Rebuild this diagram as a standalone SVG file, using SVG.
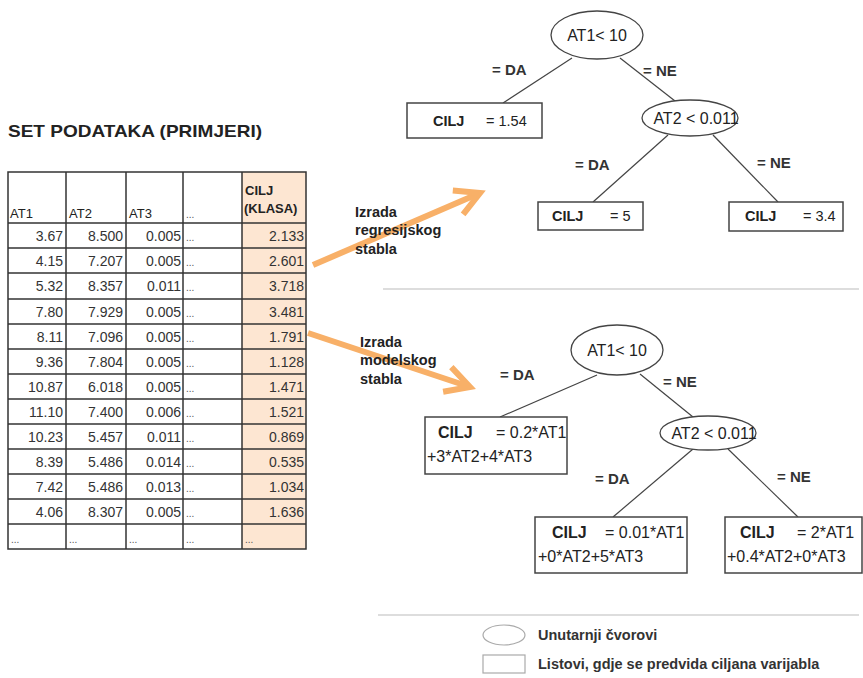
<svg xmlns="http://www.w3.org/2000/svg" width="863" height="678" viewBox="0 0 863 678">
<style>
text{font-family:"Liberation Sans",Arial,sans-serif;fill:#222}
.b{font-weight:bold}
.title{font-size:17px;font-weight:bold}
.hd{font-size:13px}
.hdb{font-size:13px;font-weight:bold}
.td{font-size:14px;text-anchor:end;fill:#333}
.dots{font-size:10px;fill:#555}
.node{fill:#fff;stroke:#444;stroke-width:1.3}
.leaf{fill:#fff;stroke:#444;stroke-width:1.5}
.edge{stroke:#444;stroke-width:1.2;fill:none}
.lbl{font-size:15px;font-weight:bold;fill:#333}
.nt{font-size:16px}
.lt{font-size:14.5px}
.lt2{font-size:16px}
.grid{stroke:#333;stroke-width:1.5;fill:none}
.sep{stroke:#ddd;stroke-width:2}
.arr{stroke:#f8b068;stroke-width:6;fill:none}
.leg{font-size:14.5px;font-weight:bold;fill:#333}
.ann{font-size:14.5px;font-weight:bold;fill:#222}
</style>
<defs>
<marker id="ah" markerUnits="userSpaceOnUse" markerWidth="40" markerHeight="40" refX="0" refY="0" viewBox="-30 -20 36 40" orient="auto" overflow="visible">
<path d="M-24,-13 L0,0 L-24,13" fill="none" stroke="#f8b068" stroke-width="6"/>
</marker>
</defs>
<rect width="863" height="678" fill="#fff"/>

<text class="title" x="8" y="137" textLength="254" lengthAdjust="spacingAndGlyphs">SET PODATAKA (PRIMJERI)</text>

<g id="table">
<rect x="242" y="172" width="64" height="377" fill="#fde6d2"/>
<g class="grid">
<rect x="8" y="172" width="298" height="377"/>
<line x1="66" y1="172" x2="66" y2="549"/>
<line x1="126" y1="172" x2="126" y2="549"/>
<line x1="183" y1="172" x2="183" y2="549"/>
<line x1="242" y1="172" x2="242" y2="549"/>
<line x1="8" y1="223" x2="306" y2="223"/>
<line x1="8" y1="248" x2="306" y2="248"/>
<line x1="8" y1="273" x2="306" y2="273"/>
<line x1="8" y1="299" x2="306" y2="299"/>
<line x1="8" y1="324" x2="306" y2="324"/>
<line x1="8" y1="349" x2="306" y2="349"/>
<line x1="8" y1="374" x2="306" y2="374"/>
<line x1="8" y1="399" x2="306" y2="399"/>
<line x1="8" y1="424" x2="306" y2="424"/>
<line x1="8" y1="449" x2="306" y2="449"/>
<line x1="8" y1="474" x2="306" y2="474"/>
<line x1="8" y1="499" x2="306" y2="499"/>
<line x1="8" y1="524" x2="306" y2="524"/>
</g>
<text class="hd" x="10" y="218">AT1</text>
<text class="hd" x="69" y="218">AT2</text>
<text class="hd" x="129" y="218">AT3</text>
<text class="dots" x="186" y="218">...</text>
<text class="hdb" x="245" y="195">CILJ</text>
<text class="hdb" x="244" y="213">(KLASA)</text>

<g id="col1">
<text class="td" x="63" y="241">3.67</text>
<text class="td" x="63" y="266">4.15</text>
<text class="td" x="63" y="291">5.32</text>
<text class="td" x="63" y="317">7.80</text>
<text class="td" x="63" y="342">8.11</text>
<text class="td" x="63" y="367">9.36</text>
<text class="td" x="63" y="392">10.87</text>
<text class="td" x="63" y="417">11.10</text>
<text class="td" x="63" y="442">10.23</text>
<text class="td" x="63" y="467">8.39</text>
<text class="td" x="63" y="492">7.42</text>
<text class="td" x="63" y="517">4.06</text>
</g>
<g id="col2">
<text class="td" x="123" y="241">8.500</text>
<text class="td" x="123" y="266">7.207</text>
<text class="td" x="123" y="291">8.357</text>
<text class="td" x="123" y="317">7.929</text>
<text class="td" x="123" y="342">7.096</text>
<text class="td" x="123" y="367">7.804</text>
<text class="td" x="123" y="392">6.018</text>
<text class="td" x="123" y="417">7.400</text>
<text class="td" x="123" y="442">5.457</text>
<text class="td" x="123" y="467">5.486</text>
<text class="td" x="123" y="492">5.486</text>
<text class="td" x="123" y="517">8.307</text>
</g>
<g id="col3">
<text class="td" x="181" y="241">0.005</text>
<text class="td" x="181" y="266">0.005</text>
<text class="td" x="181" y="291">0.011</text>
<text class="td" x="181" y="317">0.005</text>
<text class="td" x="181" y="342">0.005</text>
<text class="td" x="181" y="367">0.005</text>
<text class="td" x="181" y="392">0.005</text>
<text class="td" x="181" y="417">0.006</text>
<text class="td" x="181" y="442">0.011</text>
<text class="td" x="181" y="467">0.014</text>
<text class="td" x="181" y="492">0.013</text>
<text class="td" x="181" y="517">0.005</text>
</g>
<g id="col4">
<text class="dots" x="186" y="241">...</text>
<text class="dots" x="186" y="266">...</text>
<text class="dots" x="186" y="291">...</text>
<text class="dots" x="186" y="317">...</text>
<text class="dots" x="186" y="342">...</text>
<text class="dots" x="186" y="367">...</text>
<text class="dots" x="186" y="392">...</text>
<text class="dots" x="186" y="417">...</text>
<text class="dots" x="186" y="442">...</text>
<text class="dots" x="186" y="467">...</text>
<text class="dots" x="186" y="492">...</text>
<text class="dots" x="186" y="517">...</text>
</g>
<g id="col5">
<text class="td" x="304" y="241">2.133</text>
<text class="td" x="304" y="266">2.601</text>
<text class="td" x="304" y="291">3.718</text>
<text class="td" x="304" y="317">3.481</text>
<text class="td" x="304" y="342">1.791</text>
<text class="td" x="304" y="367">1.128</text>
<text class="td" x="304" y="392">1.471</text>
<text class="td" x="304" y="417">1.521</text>
<text class="td" x="304" y="442">0.869</text>
<text class="td" x="304" y="467">0.535</text>
<text class="td" x="304" y="492">1.034</text>
<text class="td" x="304" y="517">1.636</text>
</g>
<text class="dots" x="11" y="543">...</text>
<text class="dots" x="69" y="543">...</text>
<text class="dots" x="129" y="543">...</text>
<text class="dots" x="186" y="543">...</text>
<text class="dots" x="245" y="543">...</text>
</g>

<line class="sep" x1="383" y1="289" x2="859" y2="289"/>
<line class="sep" x1="378" y1="615" x2="859" y2="615"/>

<g id="arrows">
<line class="arr" x1="313" y1="265" x2="480" y2="193" marker-end="url(#ah)"/>
<line class="arr" x1="308" y1="333" x2="470" y2="387" marker-end="url(#ah)"/>
<text class="ann" x="355" y="217">Izrada</text>
<text class="ann" x="355" y="235">regresijskog</text>
<text class="ann" x="355" y="254">stabla</text>
<text class="ann" x="360" y="347">Izrada</text>
<text class="ann" x="360" y="365">modelskog</text>
<text class="ann" x="360" y="384">stabla</text>
</g>

<g id="connectors">
<line class="edge" x1="572" y1="58" x2="503" y2="103"/>
<line class="edge" x1="620" y1="58" x2="675" y2="101"/>
<line class="edge" x1="668" y1="135" x2="593" y2="202"/>
<line class="edge" x1="713" y1="135" x2="778" y2="202"/>
<line class="edge" x1="597" y1="375" x2="500" y2="417"/>
<line class="edge" x1="640" y1="374" x2="693" y2="417"/>
<line class="edge" x1="693" y1="449" x2="613" y2="517"/>
<line class="edge" x1="728" y1="449" x2="798" y2="517"/>
<text class="lbl" x="492" y="75">= DA</text>
<text class="lbl" x="643" y="76">= NE</text>
<text class="lbl" x="575" y="170">= DA</text>
<text class="lbl" x="757" y="168">= NE</text>
<text class="lbl" x="500" y="380">= DA</text>
<text class="lbl" x="663" y="387">= NE</text>
<text class="lbl" x="595" y="484">= DA</text>
<text class="lbl" x="777" y="482">= NE</text>
</g>

<g id="r_root">
<ellipse class="node" cx="597" cy="35" rx="46" ry="24"/>
<text class="nt" x="597" y="41" text-anchor="middle">AT1&lt; 10</text>
</g>
<g id="r_leaf1">
<rect class="leaf" x="407" y="103" width="135" height="35"/>
<text class="lt b" x="433" y="126">CILJ</text>
<text class="lt" x="486" y="126">= 1.54</text>
</g>
<g id="r_at2">
<ellipse class="node" cx="690" cy="118" rx="48" ry="18"/>
<text class="nt" x="696" y="124" text-anchor="middle">AT2 &lt; 0.011</text>
</g>
<g id="r_leaf2">
<rect class="leaf" x="538" y="202" width="105" height="28"/>
<text class="lt b" x="552" y="221">CILJ</text>
<text class="lt" x="610" y="221">= 5</text>
</g>
<g id="r_leaf3">
<rect class="leaf" x="729" y="202" width="114" height="29"/>
<text class="lt b" x="745" y="221">CILJ</text>
<text class="lt" x="803" y="221">= 3.4</text>
</g>

<g id="m_root">
<ellipse class="node" cx="617" cy="350" rx="46" ry="25"/>
<text class="nt" x="617" y="356" text-anchor="middle">AT1&lt; 10</text>
</g>
<g id="m_leaf1">
<rect class="leaf" x="425" y="417" width="142" height="57"/>
<text class="lt2 b" x="438" y="438">CILJ</text>
<text class="lt2" x="496" y="438">= 0.2*AT1</text>
<text class="lt2" x="427" y="462">+3*AT2+4*AT3</text>
</g>
<g id="m_at2">
<ellipse class="node" cx="708" cy="433" rx="48" ry="17"/>
<text class="nt" x="714" y="439" text-anchor="middle">AT2 &lt; 0.011</text>
</g>
<g id="m_leaf2">
<rect class="leaf" x="535" y="517" width="152" height="56"/>
<text class="lt2 b" x="552" y="538">CILJ</text>
<text class="lt2" x="605" y="538">= 0.01*AT1</text>
<text class="lt2" x="538" y="562">+0*AT2+5*AT3</text>
</g>
<g id="m_leaf3">
<rect class="leaf" x="725" y="517" width="137" height="56"/>
<text class="lt2 b" x="740" y="538">CILJ</text>
<text class="lt2" x="797" y="538">= 2*AT1</text>
<text class="lt2" x="727" y="562">+0.4*AT2+0*AT3</text>
</g>

<g id="legend">
<ellipse cx="504" cy="635" rx="21" ry="10" fill="#fff" stroke="#aaa" stroke-width="1.2"/>
<text class="leg" x="538" y="640">Unutarnji čvorovi</text>
<rect x="483" y="655" width="42" height="18" fill="#fff" stroke="#aaa" stroke-width="1.2"/>
<text class="leg" x="538" y="669">Listovi, gdje se predvida ciljana varijabla</text>
</g>
</svg>
